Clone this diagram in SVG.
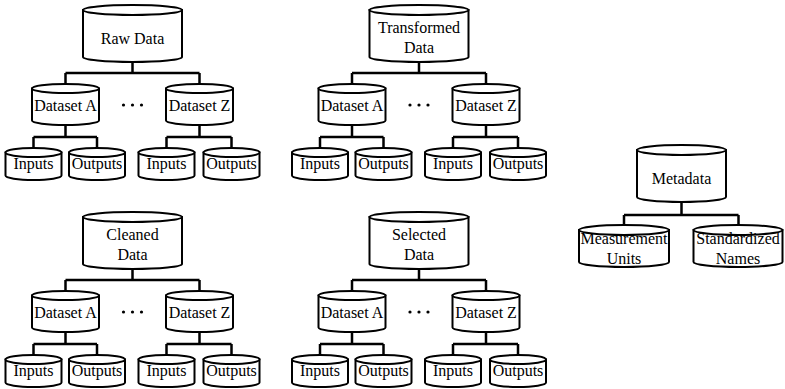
<svg xmlns="http://www.w3.org/2000/svg" width="785" height="389" viewBox="0 0 785 389">
  <style>
    .cyl { fill: #fff; stroke: #000; stroke-width: 2; }
    .wire { fill: none; stroke: #000; stroke-width: 2.5; }
    .lbl { font-family: "Liberation Serif", "Times New Roman", serif; font-size: 16px; fill: #000; text-anchor: middle; }
    .dot { fill: #000; }
  </style>
  <defs>
    <!-- connector skeleton for one data tree (root centre at x=132.5) -->
    <path id="treeWires" d="M132.5,62 V73 M65.5,73 H199.5 M65.5,73 V84 M199.5,73 V84
      M65.5,125 V137 M33.5,137 H97 M33.5,137 V148 M97,137 V148
      M199.5,125 V137 M166.5,137 H231.5 M166.5,137 V148 M231.5,137 V148"/>
    <!-- cylinder shapes -->
    <path id="rootBody" d="M83,10 V57 A49.5,5 0 0 0 182,57 V10 Z"/>
    <ellipse id="rootCap" cx="132.5" cy="10" rx="49.5" ry="5"/>
    <path id="dsBody" d="M0,88.5 V120.5 A33.5,4.5 0 0 0 67,120.5 V88.5 Z"/>
    <ellipse id="dsCap" cx="33.5" cy="88.5" rx="33.5" ry="4.5"/>
    <path id="leafBody" d="M0,152.5 V175.5 A28,4.5 0 0 0 56,175.5 V152.5 Z"/>
    <ellipse id="leafCap" cx="28" cy="152.5" rx="28" ry="4.5"/>
  </defs>

  <!-- connectors -->
  <g id="connectors">
    <use href="#treeWires" class="wire"/>
    <use href="#treeWires" class="wire" transform="translate(286.5,0)"/>
    <use href="#treeWires" class="wire" transform="translate(0,207)"/>
    <use href="#treeWires" class="wire" transform="translate(286.5,207)"/>
    <path class="wire" d="M681.5,202 V215 M624,215 H738.5 M624,215 V225 M738.5,215 V225"/>
  </g>

  <!-- Raw Data tree -->
  <g id="raw-tree">
    <g id="raw-root"><use href="#rootBody" class="cyl"/><use href="#rootCap" class="cyl"/>
      <text class="lbl" x="132.5" y="43.5">Raw Data</text></g>
    <g id="raw-dsA" transform="translate(32,0)"><use href="#dsBody" class="cyl"/><use href="#dsCap" class="cyl"/>
      <text class="lbl" x="33.5" y="110.5">Dataset A</text></g>
    <g id="raw-dsZ" transform="translate(166,0)"><use href="#dsBody" class="cyl"/><use href="#dsCap" class="cyl"/>
      <text class="lbl" x="33.5" y="110.5">Dataset Z</text></g>
    <g id="raw-dots"><circle class="dot" cx="123.5" cy="105" r="1.6"/><circle class="dot" cx="132.5" cy="105" r="1.6"/><circle class="dot" cx="141.5" cy="105" r="1.6"/></g>
    <g id="raw-A-in" transform="translate(5.5,0)"><use href="#leafBody" class="cyl"/><use href="#leafCap" class="cyl"/>
      <text class="lbl" x="28" y="169">Inputs</text></g>
    <g id="raw-A-out" transform="translate(69,0)"><use href="#leafBody" class="cyl"/><use href="#leafCap" class="cyl"/>
      <text class="lbl" x="28" y="169">Outputs</text></g>
    <g id="raw-Z-in" transform="translate(138.5,0)"><use href="#leafBody" class="cyl"/><use href="#leafCap" class="cyl"/>
      <text class="lbl" x="28" y="169">Inputs</text></g>
    <g id="raw-Z-out" transform="translate(203.5,0)"><use href="#leafBody" class="cyl"/><use href="#leafCap" class="cyl"/>
      <text class="lbl" x="28" y="169">Outputs</text></g>
  </g>

  <!-- Transformed Data tree -->
  <g id="transformed-tree" transform="translate(286.5,0)">
    <g id="transformed-root"><use href="#rootBody" class="cyl"/><use href="#rootCap" class="cyl"/>
      <text class="lbl" x="132.5" y="32.5">Transformed</text><text class="lbl" x="132.5" y="52.5">Data</text></g>
    <g id="transformed-dsA" transform="translate(32,0)"><use href="#dsBody" class="cyl"/><use href="#dsCap" class="cyl"/>
      <text class="lbl" x="33.5" y="110.5">Dataset A</text></g>
    <g id="transformed-dsZ" transform="translate(166,0)"><use href="#dsBody" class="cyl"/><use href="#dsCap" class="cyl"/>
      <text class="lbl" x="33.5" y="110.5">Dataset Z</text></g>
    <g id="transformed-dots"><circle class="dot" cx="123.5" cy="105" r="1.6"/><circle class="dot" cx="132.5" cy="105" r="1.6"/><circle class="dot" cx="141.5" cy="105" r="1.6"/></g>
    <g id="transformed-A-in" transform="translate(5.5,0)"><use href="#leafBody" class="cyl"/><use href="#leafCap" class="cyl"/>
      <text class="lbl" x="28" y="169">Inputs</text></g>
    <g id="transformed-A-out" transform="translate(69,0)"><use href="#leafBody" class="cyl"/><use href="#leafCap" class="cyl"/>
      <text class="lbl" x="28" y="169">Outputs</text></g>
    <g id="transformed-Z-in" transform="translate(138.5,0)"><use href="#leafBody" class="cyl"/><use href="#leafCap" class="cyl"/>
      <text class="lbl" x="28" y="169">Inputs</text></g>
    <g id="transformed-Z-out" transform="translate(203.5,0)"><use href="#leafBody" class="cyl"/><use href="#leafCap" class="cyl"/>
      <text class="lbl" x="28" y="169">Outputs</text></g>
  </g>

  <!-- Cleaned Data tree -->
  <g id="cleaned-tree" transform="translate(0,207)">
    <g id="cleaned-root"><use href="#rootBody" class="cyl"/><use href="#rootCap" class="cyl"/>
      <text class="lbl" x="132.5" y="33">Cleaned</text><text class="lbl" x="132.5" y="53">Data</text></g>
    <g id="cleaned-dsA" transform="translate(32,0)"><use href="#dsBody" class="cyl"/><use href="#dsCap" class="cyl"/>
      <text class="lbl" x="33.5" y="110.5">Dataset A</text></g>
    <g id="cleaned-dsZ" transform="translate(166,0)"><use href="#dsBody" class="cyl"/><use href="#dsCap" class="cyl"/>
      <text class="lbl" x="33.5" y="110.5">Dataset Z</text></g>
    <g id="cleaned-dots"><circle class="dot" cx="123.5" cy="105" r="1.6"/><circle class="dot" cx="132.5" cy="105" r="1.6"/><circle class="dot" cx="141.5" cy="105" r="1.6"/></g>
    <g id="cleaned-A-in" transform="translate(5.5,0)"><use href="#leafBody" class="cyl"/><use href="#leafCap" class="cyl"/>
      <text class="lbl" x="28" y="169">Inputs</text></g>
    <g id="cleaned-A-out" transform="translate(69,0)"><use href="#leafBody" class="cyl"/><use href="#leafCap" class="cyl"/>
      <text class="lbl" x="28" y="169">Outputs</text></g>
    <g id="cleaned-Z-in" transform="translate(138.5,0)"><use href="#leafBody" class="cyl"/><use href="#leafCap" class="cyl"/>
      <text class="lbl" x="28" y="169">Inputs</text></g>
    <g id="cleaned-Z-out" transform="translate(203.5,0)"><use href="#leafBody" class="cyl"/><use href="#leafCap" class="cyl"/>
      <text class="lbl" x="28" y="169">Outputs</text></g>
  </g>

  <!-- Selected Data tree -->
  <g id="selected-tree" transform="translate(286.5,207)">
    <g id="selected-root"><use href="#rootBody" class="cyl"/><use href="#rootCap" class="cyl"/>
      <text class="lbl" x="132.5" y="33">Selected</text><text class="lbl" x="132.5" y="53">Data</text></g>
    <g id="selected-dsA" transform="translate(32,0)"><use href="#dsBody" class="cyl"/><use href="#dsCap" class="cyl"/>
      <text class="lbl" x="33.5" y="110.5">Dataset A</text></g>
    <g id="selected-dsZ" transform="translate(166,0)"><use href="#dsBody" class="cyl"/><use href="#dsCap" class="cyl"/>
      <text class="lbl" x="33.5" y="110.5">Dataset Z</text></g>
    <g id="selected-dots"><circle class="dot" cx="123.5" cy="105" r="1.6"/><circle class="dot" cx="132.5" cy="105" r="1.6"/><circle class="dot" cx="141.5" cy="105" r="1.6"/></g>
    <g id="selected-A-in" transform="translate(5.5,0)"><use href="#leafBody" class="cyl"/><use href="#leafCap" class="cyl"/>
      <text class="lbl" x="28" y="169">Inputs</text></g>
    <g id="selected-A-out" transform="translate(69,0)"><use href="#leafBody" class="cyl"/><use href="#leafCap" class="cyl"/>
      <text class="lbl" x="28" y="169">Outputs</text></g>
    <g id="selected-Z-in" transform="translate(138.5,0)"><use href="#leafBody" class="cyl"/><use href="#leafCap" class="cyl"/>
      <text class="lbl" x="28" y="169">Inputs</text></g>
    <g id="selected-Z-out" transform="translate(203.5,0)"><use href="#leafBody" class="cyl"/><use href="#leafCap" class="cyl"/>
      <text class="lbl" x="28" y="169">Outputs</text></g>
  </g>

  <!-- Metadata tree -->
  <g id="metadata-tree">
    <g id="metadata-root">
      <path class="cyl" d="M637,150 V197 A44.5,5 0 0 0 726,197 V150 Z"/>
      <ellipse class="cyl" cx="681.5" cy="150" rx="44.5" ry="5"/>
      <text class="lbl" x="681.5" y="184">Metadata</text>
    </g>
    <g id="metadata-units">
      <path class="cyl" d="M579,230 V262 A45,5 0 0 0 669,262 V230 Z"/>
      <ellipse class="cyl" cx="624" cy="230" rx="45" ry="5"/>
      <text class="lbl" x="624" y="244">Measurement</text>
      <text class="lbl" x="624" y="263.5">Units</text>
    </g>
    <g id="metadata-names">
      <path class="cyl" d="M693.5,230 V262 A44.5,5 0 0 0 782.5,262 V230 Z"/>
      <ellipse class="cyl" cx="738" cy="230" rx="44.5" ry="5"/>
      <text class="lbl" x="738" y="244">Standardized</text>
      <text class="lbl" x="738" y="263.5">Names</text>
    </g>
  </g>
</svg>
